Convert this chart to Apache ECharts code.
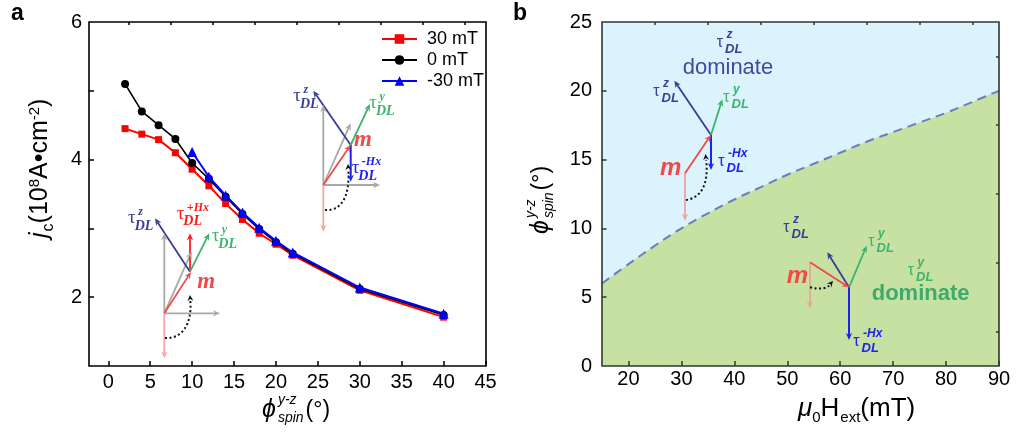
<!DOCTYPE html>
<html>
<head>
<meta charset="utf-8">
<script src="https://cdn.jsdelivr.net/npm/echarts@6/dist/echarts.min.js"></script>
<style>
html, body { margin: 0; padding: 0; background: #fff; }
#chart { width: 1016px; height: 432px; }
</style>
</head>
<body>
<div id="chart"></div>
<script>
// (a) critical switching current density vs. spin polarization angle
const phiSpin = [2, 4, 6, 8, 10, 12, 14, 16, 18, 20, 22, 30, 40];
const jcPos30 = [4.45, 4.37, 4.29, 4.10, 3.86, 3.62, 3.36, 3.13, 2.93, 2.77, 2.61, 2.10, 1.71];
const jcZero = [5.10, 4.70, 4.50, 4.30, 3.95, 3.72, 3.46, 3.21, 2.99, 2.80, 2.63, 2.12, 1.74];
const phiSpinNeg = [10, 12, 14, 16, 18, 20, 22, 30, 40];
const jcNeg30 = [4.11, 3.75, 3.48, 3.23, 3.01, 2.82, 2.65, 2.14, 1.76];
const seriesNamesA = ['30 mT', '0 mT', '-30 mT'];

// (b) boundary between the two torque regimes
const hExt = [15, 20, 25, 30, 35, 40, 45, 50, 55, 60, 65, 70, 75, 80, 85, 90];
const phiBoundary = [6.0, 7.4, 8.75, 10.0, 11.1, 12.1, 13.0, 13.9, 14.7, 15.5, 16.3, 17.0, 17.7, 18.4, 19.2, 20.0];

// tick values
const xTicksA = [0, 5, 10, 15, 20, 25, 30, 35, 40, 45];
const xMinorA = [2.5, 7.5, 12.5, 17.5, 22.5, 27.5, 32.5, 37.5, 42.5];
const yTicksA = [2, 3, 4, 5];
const yLabelsA = [2, 4, 6];
const xTicksB = [20, 30, 40, 50, 60, 70, 80, 90];
const xMinorB = [25, 35, 45, 55, 65, 75, 85];
const yTicksB = [5, 10, 15, 20];
const yMinorB = [2.5, 7.5, 12.5, 17.5, 22.5];
const yLabelsB = [0, 5, 10, 15, 20, 25];

const SANS = '"Liberation Sans", Arial, "DejaVu Sans", sans-serif';
const SERIF = '"Liberation Serif", "Times New Roman", "DejaVu Serif", serif';

const NAVY = '#3b3f94', GREEN = '#3cb36e', RED = '#f04a4a', BLUE = '#1c22f0';
const GRAY = '#a8a8a8', PINK = '#f5a5a5';

const gA = { left: 89, top: 22, width: 397, height: 344 };
const gB = { left: 602, top: 22, width: 397, height: 344 };

// ---------- text helpers ----------
const mctx = document.createElement('canvas').getContext('2d');
function fontCss(p) {
  return (p.it ? 'italic ' : '') + (p.b ? 'bold ' : '') + p.s + 'px ' + (p.fam || SANS);
}
function textW(p) { mctx.font = fontCss(p); return mctx.measureText(p.t).width; }
function txt(x, base, p) {
  return {
    type: 'text', x: x, y: base - 0.35 * p.s, silent: true, z: 50,
    style: {
      text: p.t, fill: p.c || '#000', fontSize: p.s, fontFamily: p.fam || SANS,
      fontStyle: p.it ? 'italic' : 'normal', fontWeight: p.b ? 'bold' : 'normal',
      align: 'left', verticalAlign: 'middle'
    }
  };
}
// pieces laid out left to right; a piece with stack:true starts where the previous one did
function textRun(x0, base, pieces) {
  const out = [];
  let x = x0, lastStart = x0, lastEnd = x0;
  pieces.forEach(function (p) {
    const w = textW(p);
    let start;
    if (p.stack) {
      start = lastStart + (p.dx || 0);
      x = Math.max(lastEnd, start + w);
      lastEnd = x;
    } else {
      start = x + (p.dx || 0);
      x = start + w;
      lastStart = start;
      lastEnd = x;
    }
    out.push(txt(start, base + (p.dy || 0), p));
  });
  return out;
}
// torque symbol with super- and subscript
function tau(x, base, sup, color, serif) {
  const fam = serif ? SERIF : SANS;
  const tp = { t: 'τ', s: serif ? 19 : 16, fam: fam, c: color };
  const w = textW(tp);
  const supP = { t: sup, s: 12, fam: fam, c: color, it: true, b: true };
  const subP = { t: 'DL', s: serif ? 14 : 13, fam: fam, c: color, it: true, b: true };
  return [
    txt(x, base, tp),
    txt(x + w + (serif ? 2.5 : 3.5), base - (serif ? 8.5 : 9), supP),
    txt(x + w + (serif ? -1 : 2), base + 6, subP)
  ];
}

// ---------- arrow helpers ----------
function arrow(x1, y1, x2, y2, color, lw, head) {
  const L = head || 7, W = L * 0.45;
  const a = Math.atan2(y2 - y1, x2 - x1);
  const c = Math.cos(a), s = Math.sin(a);
  const bx = x2 - L * c, by = y2 - L * s;
  const nx = x2 - L * 0.7 * c, ny = y2 - L * 0.7 * s;
  return [
    { type: 'line', silent: true, z: 40, shape: { x1: x1, y1: y1, x2: nx, y2: ny },
      style: { stroke: color, lineWidth: lw || 1.8 } },
    { type: 'polygon', silent: true, z: 41,
      shape: { points: [[x2, y2], [bx - W * s, by + W * c], [nx, ny], [bx + W * s, by - W * c]] },
      style: { fill: color } }
  ];
}
function dottedArc(p0, c1, c2, p1) {
  const a = Math.atan2(p1[1] - c2[1], p1[0] - c2[0]);
  const L = 6, W = 3, cs = Math.cos(a), sn = Math.sin(a);
  const bx = p1[0] - L * cs, by = p1[1] - L * sn;
  return [
    { type: 'bezierCurve', silent: true, z: 40,
      shape: { x1: p0[0], y1: p0[1], cpx1: c1[0], cpy1: c1[1], cpx2: c2[0], cpy2: c2[1], x2: bx, y2: by },
      style: { stroke: '#111', lineWidth: 2, lineDash: [2, 2.5], fill: null } },
    { type: 'polygon', silent: true, z: 41,
      shape: { points: [[p1[0], p1[1]], [bx - W * sn, by + W * cs], [p1[0] - L * 0.65 * cs, p1[1] - L * 0.65 * sn], [bx + W * sn, by - W * cs]] },
      style: { fill: '#111' } }
  ];
}

let gfx = [];
// panel letters
gfx = gfx.concat(textRun(11, 21.5, [{ t: 'a', s: 23, b: true }]));
gfx = gfx.concat(textRun(513, 21.5, [{ t: 'b', s: 23, b: true }]));

// frames
gfx.push({ type: 'rect', silent: true, z: 100, shape: { x: gA.left, y: gA.top, width: gA.width, height: gA.height },
  style: { fill: null, stroke: '#000', lineWidth: 1.6 } });
gfx.push({ type: 'rect', silent: true, z: 100, shape: { x: gB.left, y: gB.top, width: gB.width, height: gB.height },
  style: { fill: null, stroke: '#2e3a2c', lineWidth: 1.6 } });

// axis titles, panel a
gfx = gfx.concat(textRun(262, 419, [
  { t: 'ϕ', s: 25, it: true },
  { t: 'y-z', s: 14, it: true, dy: -14, dx: 2 },
  { t: 'spin', s: 14, it: true, dy: 4, stack: true },
  { t: '(°)', s: 23, dx: 2 }
]));
gfx.push({ type: 'group', x: 49, y: 238, rotation: Math.PI / 2, silent: true,
  children: textRun(0, 0, [
    { t: 'j', s: 25, it: true },
    { t: 'c', s: 16, dy: 5, dx: 1 },
    { t: '(10', s: 25 },
    { t: '8', s: 15, dy: -9 },
    { t: 'A•cm', s: 25 },
    { t: '-2', s: 15, dy: -9 },
    { t: ')', s: 25 }
  ]) });

// axis titles, panel b
gfx = gfx.concat(textRun(798, 418, [
  { t: 'μ', s: 26, it: true },
  { t: '0', s: 15, dy: 5 },
  { t: 'H', s: 26 },
  { t: 'ext', s: 15, dy: 5, dx: 1 },
  { t: '(mT)', s: 26 }
]));
gfx.push({ type: 'group', x: 550, y: 234, rotation: Math.PI / 2, silent: true,
  children: textRun(0, 0, [
    { t: 'ϕ', s: 25, it: true },
    { t: 'y-z', s: 14, it: true, dy: -14, dx: 2 },
    { t: 'spin', s: 14, it: true, dy: 4, stack: true },
    { t: '(°)', s: 23, dx: 2 }
  ]) });

// panel a, lower-left vector sketch
gfx = gfx.concat(
  arrow(164.3, 313.3, 164.3, 233.3, GRAY, 1.8),
  arrow(164.3, 313.3, 220, 313.3, GRAY, 1.8),
  arrow(164.3, 313.3, 191.7, 251.7, GRAY, 1.8),
  arrow(164.3, 313.3, 164.3, 358.3, PINK, 1.8),
  arrow(164.3, 313.3, 191, 272, RED, 1.8),
  arrow(190, 271.7, 155, 218.3, NAVY, 1.8),
  arrow(190, 271.7, 190, 233.3, '#ff1a1a', 1.8),
  arrow(190, 271.7, 209.3, 233.3, GREEN, 1.8),
  dottedArc([165, 338], [181, 339], [192, 326], [190, 295]),
  tau(128, 225, 'z', NAVY, true),
  tau(176.7, 220.7, '+Hx', '#ff1a1a', true),
  tau(211.7, 243, 'y', GREEN, true),
  textRun(197.3, 290, [{ t: 'm', s: 23, fam: SERIF, it: true, b: true, c: RED }])
);
// panel a, upper-right vector sketch
gfx = gfx.concat(
  arrow(323.3, 185, 323.3, 105, GRAY, 1.8),
  arrow(323.3, 185, 380, 185, GRAY, 1.8),
  arrow(323.3, 185, 350.7, 123.3, GRAY, 1.8),
  arrow(323.3, 185, 323.3, 231.7, PINK, 1.8),
  arrow(323.3, 185, 350.7, 145, RED, 1.8),
  arrow(350.7, 145, 313.3, 90.7, NAVY, 1.8),
  arrow(350.7, 145, 370, 104, GREEN, 1.8),
  arrow(350.7, 145, 350.7, 181.7, BLUE, 2),
  dottedArc([325, 210], [340, 211], [350, 199], [348, 164]),
  tau(293.3, 103, 'z', NAVY, true),
  tau(369.3, 110, 'y', GREEN, true),
  tau(351.7, 175, '-Hx', BLUE, true),
  textRun(354, 148, [{ t: 'm', s: 23, fam: SERIF, it: true, b: true, c: RED }])
);

// panel b, vector sketch in the upper region
gfx = gfx.concat(
  arrow(685, 173.3, 685, 220.7, '#eea2a2', 1.8),
  arrow(685, 173.3, 711, 135, RED, 1.8),
  arrow(711, 135, 711, 170, BLUE, 2),
  arrow(711, 135, 674.3, 80.7, NAVY, 1.8),
  arrow(711, 135, 722.3, 99.3, GREEN, 1.8),
  dottedArc([686, 200], [700, 198], [709, 186], [705.5, 154]),
  tau(653.3, 96.7, 'z', NAVY, false),
  tau(723.3, 103, 'y', GREEN, false),
  tau(718.3, 166.7, '-Hx', BLUE, false),
  textRun(660, 176.7, [{ t: 'm', s: 24, it: true, b: true, c: RED }]),
  tau(716.7, 48, 'z', NAVY, false),
  textRun(682.7, 76, [{ t: 'dominate', s: 22, c: '#3f4c9e' }])
);
// panel b, vector sketch in the lower region
gfx = gfx.concat(
  arrow(810, 262.3, 810, 308.3, '#e9a595', 1.8),
  arrow(810, 262.3, 849, 287.3, RED, 1.8),
  arrow(849, 287.3, 827.3, 252.3, NAVY, 1.8),
  arrow(849, 287.3, 866.7, 245.7, GREEN, 1.8),
  arrow(849, 287.3, 849, 340, BLUE, 2),
  dottedArc([810, 287.3], [820, 290], [827, 288], [833, 281]),
  tau(783.3, 233, 'z', NAVY, false),
  tau(868.3, 246.7, 'y', GREEN, false),
  tau(853.3, 346.7, '-Hx', BLUE, false),
  textRun(786.7, 285, [{ t: 'm', s: 24, it: true, b: true, c: RED }]),
  tau(907.7, 276, 'y', GREEN, false),
  textRun(871.7, 301.7, [{ t: 'dominate', s: 22, b: true, c: '#3dab6b' }])
);

// ---------- axes ----------
function tickAxis(grid, min, max, ticks, len, labels, margin, color) {
  return {
    type: 'value', gridIndex: grid, min: min, max: max, z: 20,
    axisLine: { show: false, onZero: false },
    splitLine: { show: false },
    axisTick: { show: true, inside: true, length: len, customValues: ticks,
      lineStyle: { color: color, width: 1.5 } },
    axisLabel: labels ? { show: true, customValues: labels, margin: margin,
      fontSize: 20, fontFamily: SANS, color: '#000' } : { show: false }
  };
}

const option = {
  animation: false,
  backgroundColor: '#fff',
  grid: [
    Object.assign({ show: false }, gA),
    Object.assign({ show: true, backgroundColor: '#dbf3fc', borderWidth: 0 }, gB)
  ],
  xAxis: [
    tickAxis(0, -2.3, 45.05, xTicksA, 5, xTicksA, 6, '#000'),
    tickAxis(0, -2.3, 45.05, xMinorA, 3, null, 0, '#000'),
    tickAxis(1, 15, 90, xTicksB, 5, xTicksB, 3, '#2e3a2c'),
    tickAxis(1, 15, 90, xMinorB, 3, null, 0, '#2e3a2c')
  ],
  yAxis: [
    tickAxis(0, 1, 6, yTicksA, 5, yLabelsA, 7, '#000'),
    tickAxis(1, 0, 25, yTicksB, 4.5, yLabelsB, 10, '#2e3a2c'),
    tickAxis(1, 0, 25, yMinorB, 3, null, 0, '#2e3a2c')
  ],
  legend: {
    data: seriesNamesA, orient: 'vertical', left: 381, top: 30,
    itemWidth: 35, itemHeight: 12, itemGap: 3, padding: 0,
    textStyle: { fontSize: 18, fontFamily: SANS, color: '#000', padding: [0, 0, 0, 5] }
  },
  series: [
    { name: seriesNamesA[0], type: 'line', xAxisIndex: 0, yAxisIndex: 0,
      data: phiSpin.map((x, i) => [x, jcPos30[i]]),
      symbol: 'rect', symbolSize: 7, color: '#ff0000',
      lineStyle: { width: 2, color: '#ff0000' }, itemStyle: { color: '#ff0000' }, z: 3 },
    { name: seriesNamesA[1], type: 'line', xAxisIndex: 0, yAxisIndex: 0,
      data: phiSpin.map((x, i) => [x, jcZero[i]]),
      symbol: 'circle', symbolSize: 8, color: '#000',
      lineStyle: { width: 1.6, color: '#000' }, itemStyle: { color: '#000' }, z: 4 },
    { name: seriesNamesA[2], type: 'line', xAxisIndex: 0, yAxisIndex: 0,
      data: phiSpinNeg.map((x, i) => [x, jcNeg30[i]]),
      symbol: 'triangle', symbolSize: 10, color: '#0000ff',
      lineStyle: { width: 2, color: '#0000ff' }, itemStyle: { color: '#0000ff' }, z: 5 },
    { name: 'boundary', type: 'line', xAxisIndex: 2, yAxisIndex: 1,
      data: hExt.map((x, i) => [x, phiBoundary[i]]),
      smooth: 0.4, showSymbol: false, symbol: 'none',
      lineStyle: { type: [9, 6], width: 2, color: '#6a7ec2' },
      areaStyle: { color: '#c6e1a1', opacity: 1, origin: 'start' }, z: 2 }
  ],
  graphic: { elements: gfx }
};

const chart = echarts.init(document.getElementById('chart'), null, { renderer: 'canvas' });
chart.setOption(option);
</script>
</body>
</html>
